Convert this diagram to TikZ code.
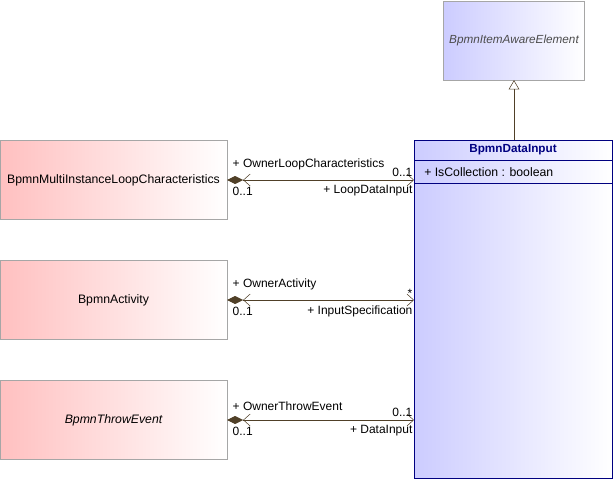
\documentclass[tikz,border=0pt]{standalone}
\usepackage{fontspec}
\setmainfont{Liberation Sans}
\usetikzlibrary{arrows.meta, positioning}
\definecolor{clsblue}{RGB}{204,204,255}
\definecolor{clsred}{RGB}{255,192,192}
\definecolor{assoc}{RGB}{80,64,40}
\definecolor{navyb}{RGB}{0,0,128}

\begin{document}
\begin{tikzpicture}[x=0.75pt, y=-0.75pt, font=\fontsize{9.2}{11}\selectfont,
	gray box/.style={draw=gray!70, left color=clsred, right color=white, minimum width=170pt, minimum height=59pt, inner sep=0pt},
	assoc/.style={draw=assoc, {Diamond[fill=assoc,length=12pt,width=6pt]Straight Barb[length=5pt,width=9pt]}-{Straight Barb[length=5pt,width=9pt]}},
	lbl/.style={inner sep=1pt, font=\fontsize{9}{10.5}\selectfont}]

	\useasboundingbox (0,0) rectangle (614,480);

	\node [draw=gray!70, left color=clsblue, right color=white, minimum width=106pt, minimum height=59pt, font=\fontsize{8.8}{10.5}\selectfont\itshape, text=gray!60!black] (IAE) at (514,40.5) {BpmnItemAwareElement};

	\filldraw [draw=navyb, left color=clsblue, right color=white] (414,140) rectangle (612,478);
	\coordinate (DI) at (414,140);
	\node [font=\fontsize{8.8}{10.5}\selectfont\bfseries, text=navyb] (DItitle) at (513,150) {BpmnDataInput};
	\draw [navyb] (414,160) -- (612,160);
	\node [anchor=west, inner sep=0pt] (DIattr) at (424,172) {+ IsCollection : boolean};
	\draw [navyb] (414,183) -- (612,183);

	\node [gray box] (MILC) at (113.5,180) {BpmnMultiInstanceLoopCharacteristics};
	\node [gray box] (ACT) at (113.5,300) {BpmnActivity};
	\node [gray box, font=\fontsize{9.2}{11}\selectfont\itshape] (TE) at (113.5,420) {BpmnThrowEvent};

	\draw [-{Triangle[open,length=7pt,width=8pt]}, draw=assoc] (514,140) -- (IAE.south);

	\foreach \src/\y/\own/\mul/\role in {MILC/180/OwnerLoopCharacteristics/0..1/LoopDataInput,
		ACT/300/OwnerActivity/*/InputSpecification,
		TE/420/OwnerThrowEvent/0..1/DataInput}{
		\coordinate (end) at (414,\y);
		\draw [assoc] (\src.east) -- (end);
		\node [lbl, anchor=south west] at ([xshift=3pt,yshift=6pt]\src.east) {+ \own};
		\node [lbl, anchor=north west] at ([xshift=3pt,yshift=-4pt]\src.east) {0..1};
		\node [lbl, anchor=south east] at ([yshift=1pt]end) {\mul};
		\node [lbl, anchor=north east] at ([yshift=-3pt]end) {+ \role};
	}
\end{tikzpicture}
\end{document}
